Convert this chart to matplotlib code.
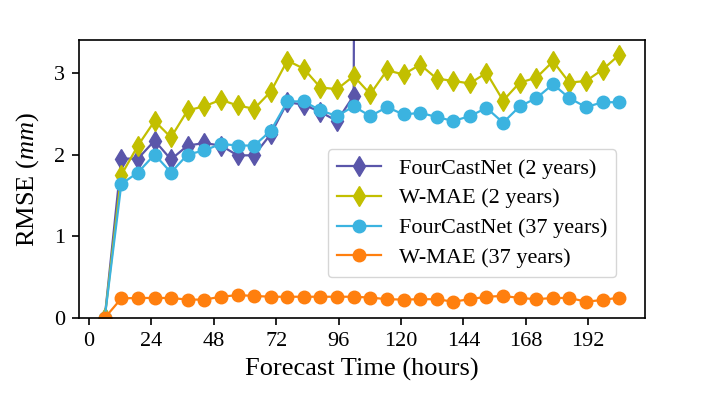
import numpy as np
import matplotlib
matplotlib.use("Agg")
import matplotlib.pyplot as plt

plt.rcParams["font.family"] = ["Liberation Serif", "DejaVu Serif"]
plt.rcParams["mathtext.fontset"] = "custom"
plt.rcParams["mathtext.rm"] = "Liberation Serif"
plt.rcParams["mathtext.it"] = "Liberation Serif:italic"

# lead times (hours)
hours = [6.0, 12.4, 18.8, 25.2, 31.5, 37.9, 44.3, 50.7, 57.1, 63.5, 69.9,
         76.3, 82.6, 89.0, 95.4, 101.8, 108.2, 114.6, 121.0, 127.4, 133.7,
         140.1, 146.5, 152.9, 159.3, 165.7, 172.1, 178.5, 184.8, 191.2,
         197.6, 204.0]

# FourCastNet trained on 2 years blows up after ~100 h
fcn_2y = [0.0, 1.95, 1.95, 2.17, 1.94, 2.11, 2.14, 2.11, 1.99, 1.99, 2.25,
          2.64, 2.61, 2.52, 2.41, 2.72, 60.0] + [np.nan] * 15
wmae_2y = [0.0, 1.75, 2.11, 2.41, 2.21, 2.54, 2.59, 2.67, 2.60, 2.56, 2.77,
           3.15, 3.05, 2.82, 2.80, 2.96, 2.74, 3.03, 2.98, 3.10, 2.93, 2.90,
           2.87, 3.00, 2.66, 2.88, 2.94, 3.14, 2.88, 2.90, 3.04, 3.22]
fcn_37y = [0.0, 1.64, 1.78, 2.00, 1.78, 2.00, 2.05, 2.13, 2.11, 2.11, 2.29,
           2.65, 2.65, 2.54, 2.47, 2.59, 2.47, 2.58, 2.49, 2.51, 2.46, 2.41,
           2.47, 2.57, 2.39, 2.59, 2.69, 2.86, 2.69, 2.58, 2.64, 2.64]
wmae_37y = [0.0, 0.24, 0.245, 0.245, 0.245, 0.225, 0.225, 0.26, 0.28, 0.27,
            0.26, 0.26, 0.26, 0.26, 0.26, 0.26, 0.25, 0.23, 0.225, 0.23,
            0.23, 0.20, 0.23, 0.26, 0.27, 0.245, 0.23, 0.245, 0.245, 0.20,
            0.22, 0.25]

labels = ["FourCastNet (2 years)", "W-MAE (2 years)",
          "FourCastNet (37 years)", "W-MAE (37 years)"]
colors = ["#5a56aa", "#c2bf00", "#3bb3e0", "#ff7f0e"]
markers = ["d", "d", "o", "o"]

fig = plt.figure(figsize=(7.14, 3.97), dpi=100)
ax = fig.add_axes([0.1106, 0.199, 0.7928, 0.700])

for y, lab, c, m in zip([fcn_2y, wmae_2y, fcn_37y, wmae_37y], labels, colors, markers):
    ms = 10.5 if m == "d" else 9
    ax.plot(hours, y, color=c, marker=m, markersize=ms, linewidth=1.6, label=lab)

ax.set_xlim(-3.9, 213.9)
ax.set_ylim(0, 3.4)
ax.set_xticks([0, 24, 48, 72, 96, 120, 144, 168, 192])
ax.set_yticks([0, 1, 2, 3])
ax.tick_params(labelsize=16, length=5, width=1.2, pad=5)
for s in ax.spines.values():
    s.set_linewidth(1.2)
ax.set_xlabel("Forecast Time (hours)", fontsize=19, labelpad=5)
ax.set_ylabel("RMSE ($mm$)", fontsize=19, labelpad=9)

ax.legend(loc="lower right", bbox_to_anchor=(0.949, 0.147), borderaxespad=0,
          fontsize=16, handlelength=2.0, labelspacing=0.42)

fig.savefig("out.png", dpi=100)
